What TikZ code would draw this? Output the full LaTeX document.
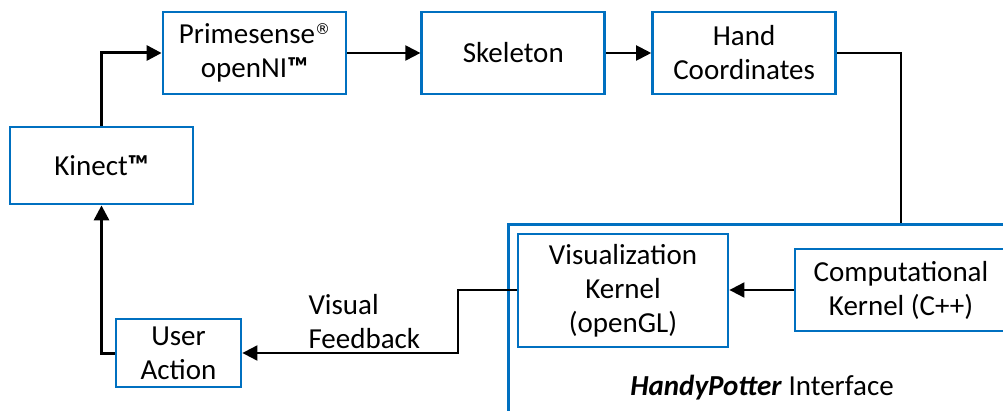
\documentclass[tikz,border=0pt]{standalone}
\usepackage{fontspec}
\setmainfont{Carlito}
\newfontfamily\symfont{DejaVu Sans}
\usetikzlibrary{arrows.meta, positioning, calc}

\definecolor{boxblue}{RGB}{0,112,192}
\newcommand{\regmark}{\raisebox{0.32em}{\symfont\fontsize{15}{15}\selectfont ®}}
\tikzset{
	blk/.style={draw=boxblue, line width=2.8pt, align=center, inner sep=2pt,
		minimum width=183pt, minimum height=82pt},
	flow/.style={line width=2pt, -{Triangle[length=15pt,width=15pt]}},
	thick flow/.style={line width=3pt, -{Triangle[length=15pt,width=15pt]}},
	wire/.style={line width=2pt}
}

\begin{document}
\begin{tikzpicture}[x=1pt, y=-1pt, font=\fontsize{29}{34}\selectfont]
	\useasboundingbox (0,0) rectangle (1003,411);
	\node[blk] (prime) at (254.5,53) {Primesense\regmark\\openNI\textbf{™}};
	\node[blk, right=73pt of prime] (skel) {Skeleton};
	\node[blk, right=45pt of skel] (hand) {Hand\\Coordinates};
	\node[blk, minimum height=77pt] (kin) at (101.5,165.5) {Kinect\textbf{™}};
	\node[draw=boxblue, line width=2.8pt, minimum width=510pt, minimum height=220pt,
		anchor=north west] (iface) at (507,223) {};
	\node (ifacelbl) at (762,388) {\textbf{\textit{HandyPotter}} Interface};
	\node[blk, minimum width=210pt, minimum height=113pt] (vis) at (623,290.5) {Visualization\\Kernel\\(openGL)};
	\node[blk, minimum width=212pt] (comp) at (901,290) {Computational\\Kernel (C++)};
	\node[blk, minimum width=125pt, minimum height=68pt] (user) at (178.5,353) {User\\Action};
	\node[align=left, anchor=west] (fb) at (305,322) {Visual\\Feedback};

	\draw[thick flow] (kin.north) |- (prime.west);
	\draw[flow] (prime) -- (skel);
	\draw[flow] (skel) -- (hand);
	\draw[wire] (hand.east) -| (comp.north |- iface.north);
	\draw[flow] (comp.west) -- (vis.east |- comp.west);
	\draw[flow] (vis.west) -- ++(-59,0) |- (user.east);
	\draw[thick flow] (user.west) -| (kin.south);
\end{tikzpicture}
\end{document}
